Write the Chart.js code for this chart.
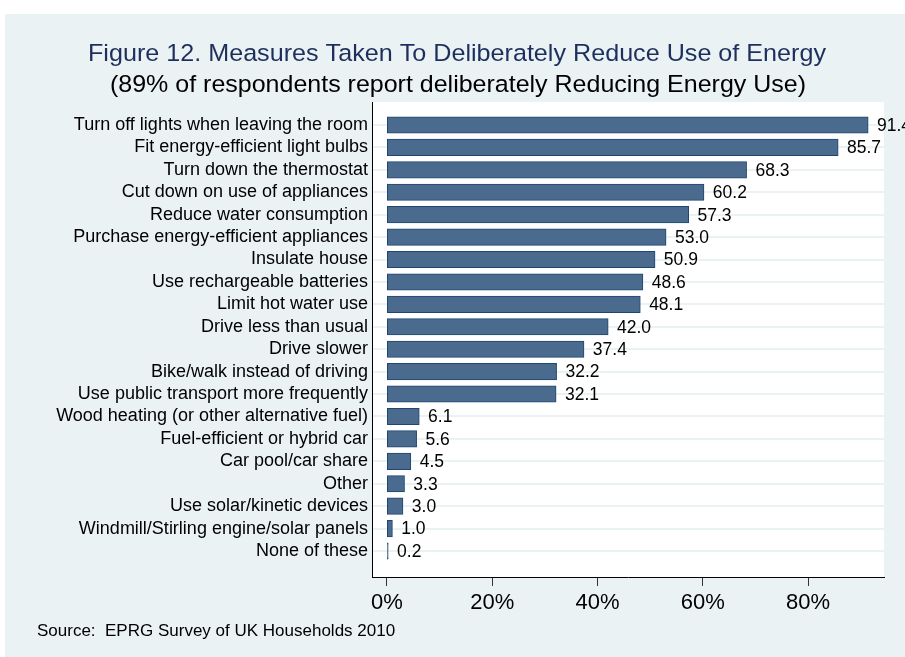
<!DOCTYPE html>
<html>
<head>
<meta charset="utf-8">
<script src="https://cdn.jsdelivr.net/npm/chart.js@4/dist/chart.umd.min.js"></script>
<style>
  html, body { margin: 0; padding: 0; background: #fff; }
  #wrap { width: 905px; height: 657px; }
</style>
</head>
<body>
<div id="wrap"><canvas id="myChart" width="905" height="657"></canvas></div>
<script>
// data
const categories = [
  "Turn off lights when leaving the room",
  "Fit energy-efficient light bulbs",
  "Turn down the thermostat",
  "Cut down on use of appliances",
  "Reduce water consumption",
  "Purchase energy-efficient appliances",
  "Insulate house",
  "Use rechargeable batteries",
  "Limit hot water use",
  "Drive less than usual",
  "Drive slower",
  "Bike/walk instead of driving",
  "Use public transport more frequently",
  "Wood heating (or other alternative fuel)",
  "Fuel-efficient or hybrid car",
  "Car pool/car share",
  "Other",
  "Use solar/kinetic devices",
  "Windmill/Stirling engine/solar panels",
  "None of these"
];
const values = [91.4, 85.7, 68.3, 60.2, 57.3, 53.0, 50.9, 48.6, 48.1, 42.0,
                37.4, 32.2, 32.1, 6.1, 5.6, 4.5, 3.3, 3.0, 1.0, 0.2];
const xTicks = [0, 20, 40, 60, 80];

const titleText = "Figure 12. Measures Taken To Deliberately Reduce Use of Energy";
const subtitleText = "(89% of respondents report deliberately Reducing Energy Use)";
const sourceText = "Source:  EPRG Survey of UK Households 2010";

const FONT = "'Liberation Sans', Arial, Helvetica, sans-serif";
const BG = "#EAF2F3";

// draws text squeezed to a given width (stata export looks condensed)
function fitText(ctx, txt, cx, y, w, size, color) {
  ctx.save();
  ctx.font = size + "px " + FONT;
  ctx.fillStyle = color;
  ctx.textBaseline = "alphabetic";
  ctx.textAlign = "center";
  const m = ctx.measureText(txt).width;
  ctx.translate(cx, y);
  ctx.scale(w / m, 1);
  ctx.fillText(txt, 0, 0);
  ctx.restore();
}

const backdrop = {
  id: "backdrop",
  beforeDraw(chart) {
    const ctx = chart.ctx;
    const a = chart.chartArea;
    ctx.save();
    ctx.fillStyle = "#fff";
    ctx.fillRect(0, 0, chart.width, chart.height);
    ctx.fillStyle = BG;
    ctx.fillRect(5, 14, chart.width - 5, chart.height - 14);
    ctx.fillStyle = "#fff";
    ctx.fillRect(a.left, a.top, a.right - a.left, a.bottom - a.top);
    ctx.restore();
  },
  afterDraw(chart) {
    const ctx = chart.ctx;
    fitText(ctx, titleText, 457, 61, 738, 24.5, "#1E2F5E");
    fitText(ctx, subtitleText, 458, 92, 696, 24.5, "#000");
    ctx.save();
    ctx.font = "17px " + FONT;
    ctx.fillStyle = "#000";
    ctx.textBaseline = "alphabetic";
    ctx.fillText(sourceText, 37, 636);
    ctx.restore();
  }
};

const barValues = {
  id: "barValues",
  afterDatasetsDraw(chart) {
    const ctx = chart.ctx;
    const meta = chart.getDatasetMeta(0);
    ctx.save();
    ctx.font = "17.5px " + FONT;
    ctx.fillStyle = "#000";
    ctx.textBaseline = "middle";
    meta.data.forEach((bar, i) => {
      ctx.fillText(values[i].toFixed(1), bar.x + 9, bar.y + 1);
    });
    ctx.restore();
  }
};

const ctx = document.getElementById("myChart").getContext("2d");
new Chart(ctx, {
  type: "bar",
  data: {
    datasets: [{
      data: values.map((v, i) => ({ x: v, y: i })),
      backgroundColor: "#4A6B8E",
      borderColor: "#1F4670",
      borderWidth: 1,
      borderSkipped: false,
      inflateAmount: 0.5,
      categoryPercentage: 1,
      barPercentage: 0.72
    }]
  },
  options: {
    indexAxis: "y",
    responsive: false,
    animation: false,
    layout: { padding: { top: 102, right: 21, left: 0, bottom: 0 } },
    plugins: {
      legend: { display: false },
      title: { display: false },
      tooltip: { enabled: false }
    },
    scales: {
      y: {
        type: "linear",
        reverse: true,
        min: -1.026,
        max: 20.16,
        offset: false,
        afterBuildTicks: (s) => { s.ticks = categories.map((c, i) => ({ value: i })); },
        afterFit: (s) => { s.width = 372; },
        grid: { offset: false, color: BG, lineWidth: 2, drawTicks: false },
        border: { display: true, color: "#000", width: 1 },
        ticks: {
          autoSkip: false,
          padding: 4,
          color: "#000",
          font: { family: FONT, size: 18 },
          callback: (v) => categories[v]
        }
      },
      x: {
        type: "linear",
        min: -2.85,
        max: 94.44,
        offset: false,
        afterBuildTicks: (s) => { s.ticks = xTicks.map((v) => ({ value: v })); },
        afterFit: (s) => { s.height = 80; },
        grid: { drawOnChartArea: false, drawTicks: true, tickLength: 9, color: "#333", lineWidth: 1 },
        border: { display: true, color: "#000", width: 1 },
        ticks: {
          padding: 4,
          color: "#000",
          maxRotation: 0,
          font: { family: FONT, size: 22 },
          callback: (v) => v + "%"
        }
      }
    }
  },
  plugins: [backdrop, barValues]
});
</script>
</body>
</html>
